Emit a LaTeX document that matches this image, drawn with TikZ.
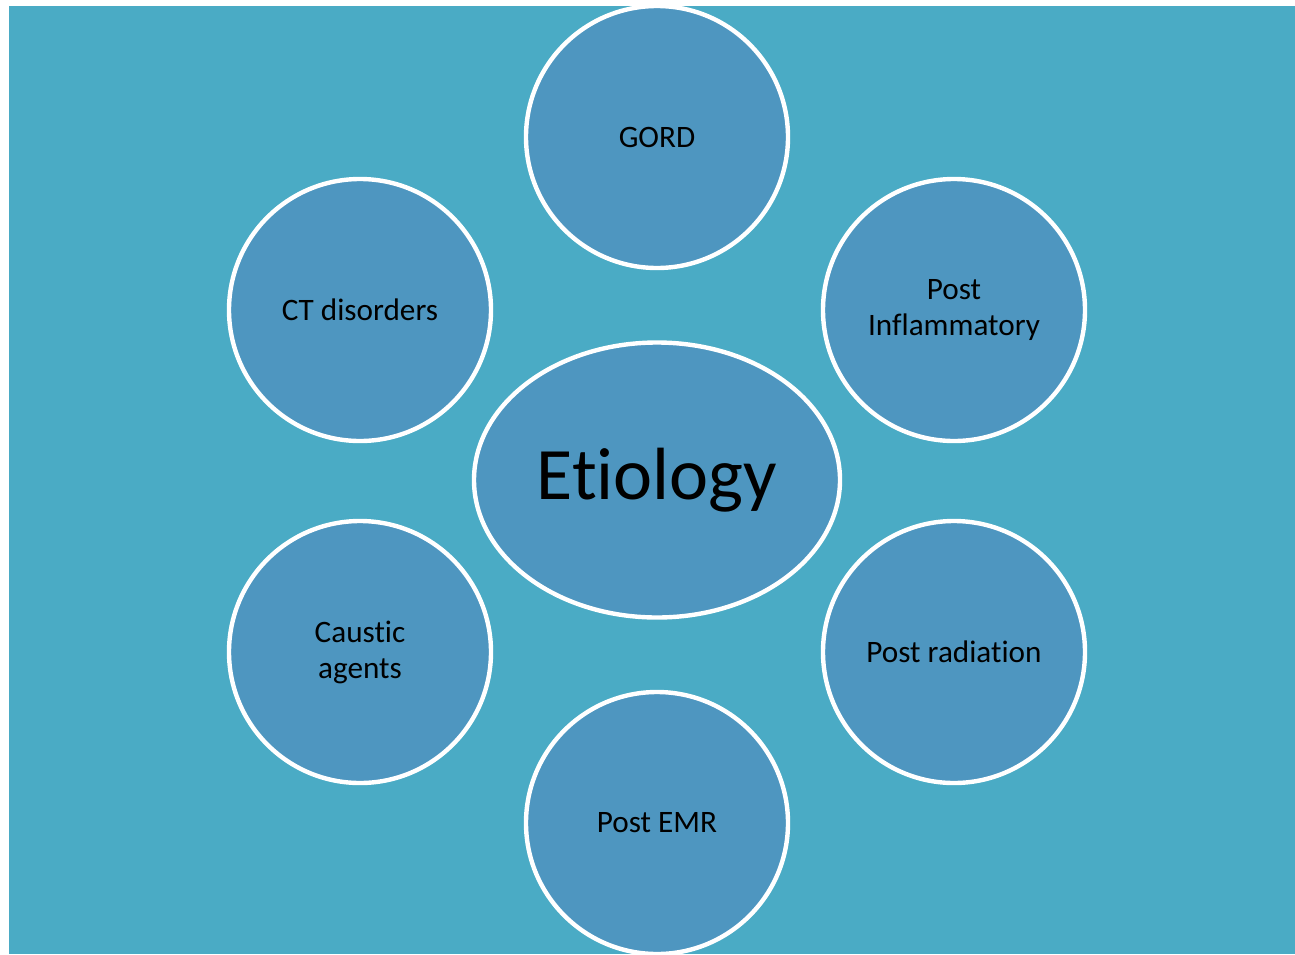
\documentclass[tikz,border=0pt]{standalone}
\usepackage{fontspec}
\setmainfont{Carlito}[Ligatures=CommonOff]
\usetikzlibrary{shapes.geometric}
\definecolor{bgteal}{RGB}{74,171,197}
\definecolor{bubble}{RGB}{78,150,192}
\begin{document}
\begin{tikzpicture}[x=0.5pt,y=-0.5pt, font=\fontsize{15.6}{18}\selectfont,
	cause/.style={circle, draw=white, line width=2.2pt, fill=bubble, minimum size=131pt, inner sep=0pt, align=center},
	hub/.style={ellipse, draw=white, line width=2.2pt, fill=bubble, minimum width=183pt, minimum height=137.5pt, inner sep=0pt, font=\fontsize{37}{42}\selectfont}]
	\useasboundingbox (0,0) rectangle (1295,954);
	\fill[bgteal] (9,6) rectangle (1295,954);
	% centre
	\node[hub] (etiology) at (657,480) {Etiology};
	% causes round the centre
	\node[cause] (gord) at (657,137) {GORD};
	\node[cause] (postinfl) at (954,310) {Post\\Inflammatory};
	\node[cause] (postrad) at (954,652) {Post radiation};
	\node[cause] (postemr) at (657,823) {Post EMR};
	\node[cause] (caustic) at (360,652) {Caustic\\agents};
	\node[cause] (ctdis) at (360,310) {CT disorders};
\end{tikzpicture}
\end{document}
